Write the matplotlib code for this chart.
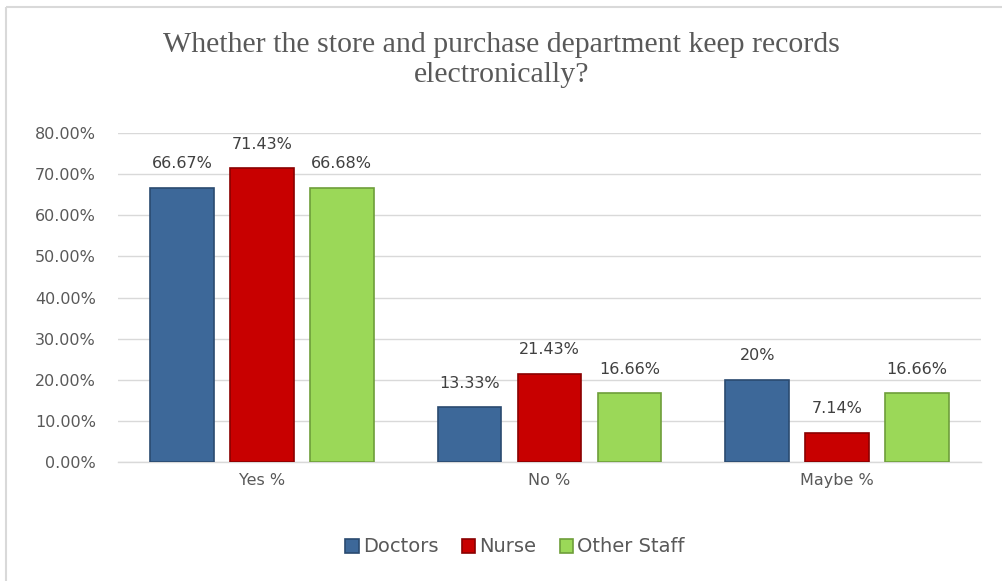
import matplotlib.pyplot as plt
import numpy as np
from matplotlib.lines import Line2D

categories = ['Yes %', 'No %', 'Maybe %']
series_names = ['Doctors', 'Nurse', 'Other Staff']
doctors = [66.67, 13.33, 20.00]
nurse = [71.43, 21.43, 7.14]
other_staff = [66.68, 16.66, 16.66]
labels = [['66.67%', '13.33%', '20%'],
          ['71.43%', '21.43%', '7.14%'],
          ['66.68%', '16.66%', '16.66%']]
colors = ['#3D6899', '#C80000', '#9BD858']
edge_colors = ['#2A4A70', '#8A0000', '#6E9E3A']

text_color = '#595959'
font = 'DejaVu Sans'

fig = plt.figure(figsize=(10.03, 5.81), dpi=100)
ax = fig.add_axes([118 / 1003, 1 - 462 / 581, (981 - 118) / 1003, (462 - 133) / 581])

# outer chart border (only top/left visible in the original)
bx, by = 6.5 / 1003, 1 - 6.5 / 581
fig.add_artist(Line2D([bx, 1.0], [by, by], transform=fig.transFigure,
                      color='#D9D9D9', linewidth=1.5, solid_capstyle='butt'))
fig.add_artist(Line2D([bx, bx], [0.0, by], transform=fig.transFigure,
                      color='#D9D9D9', linewidth=1.5, solid_capstyle='butt'))

x = np.arange(len(categories))
width = 0.222
offsets = [-0.278, 0, 0.278]
for i, (vals, name) in enumerate(zip([doctors, nurse, other_staff], series_names)):
    bars = ax.bar(x + offsets[i], vals, width, color=colors[i],
                  edgecolor=edge_colors[i], linewidth=1.2, label=name, zorder=3)
    for b, lab in zip(bars, labels[i]):
        ax.annotate(lab, (b.get_x() + b.get_width() / 2, b.get_height()),
                    xytext=(0, 12), textcoords='offset points',
                    ha='center', va='bottom', fontsize=11.5, color='#404040',
                    family=font)

ax.set_xlim(-0.5, 2.5)
ax.set_ylim(0, 80)
ax.set_yticks(np.arange(0, 81, 10))
ax.set_yticklabels([f'{v:.2f}%' for v in np.arange(0, 81, 10)])
ax.set_xticks(x)
ax.set_xticklabels(categories)
ax.grid(axis='y', color='#D9D9D9', linewidth=1, zorder=0)
for s in ['top', 'right', 'left']:
    ax.spines[s].set_visible(False)
ax.spines['bottom'].set_color('#D9D9D9')
ax.spines['bottom'].set_linewidth(1)
ax.tick_params(axis='both', length=0, labelsize=11.5, labelcolor=text_color)
ax.tick_params(axis='y', pad=16)
ax.tick_params(axis='x', pad=8)
for t in ax.get_xticklabels() + ax.get_yticklabels():
    t.set_family(font)

fig.text(0.5, 1 - 60 / 581,
         'Whether the store and purchase department keep records\nelectronically?',
         ha='center', va='center', fontsize=21.5, color=text_color,
         family='Liberation Serif', linespacing=1.2)

leg = fig.legend(loc='center', bbox_to_anchor=(515 / 1003, 1 - 547 / 581), ncol=3,
                 frameon=False, handlelength=0.7, handleheight=0.7,
                 handletextpad=0.2, columnspacing=1.2,
                 prop={'family': font, 'size': 14})
for t in leg.get_texts():
    t.set_color(text_color)

fig.savefig('out.png', dpi=100, facecolor='white')
